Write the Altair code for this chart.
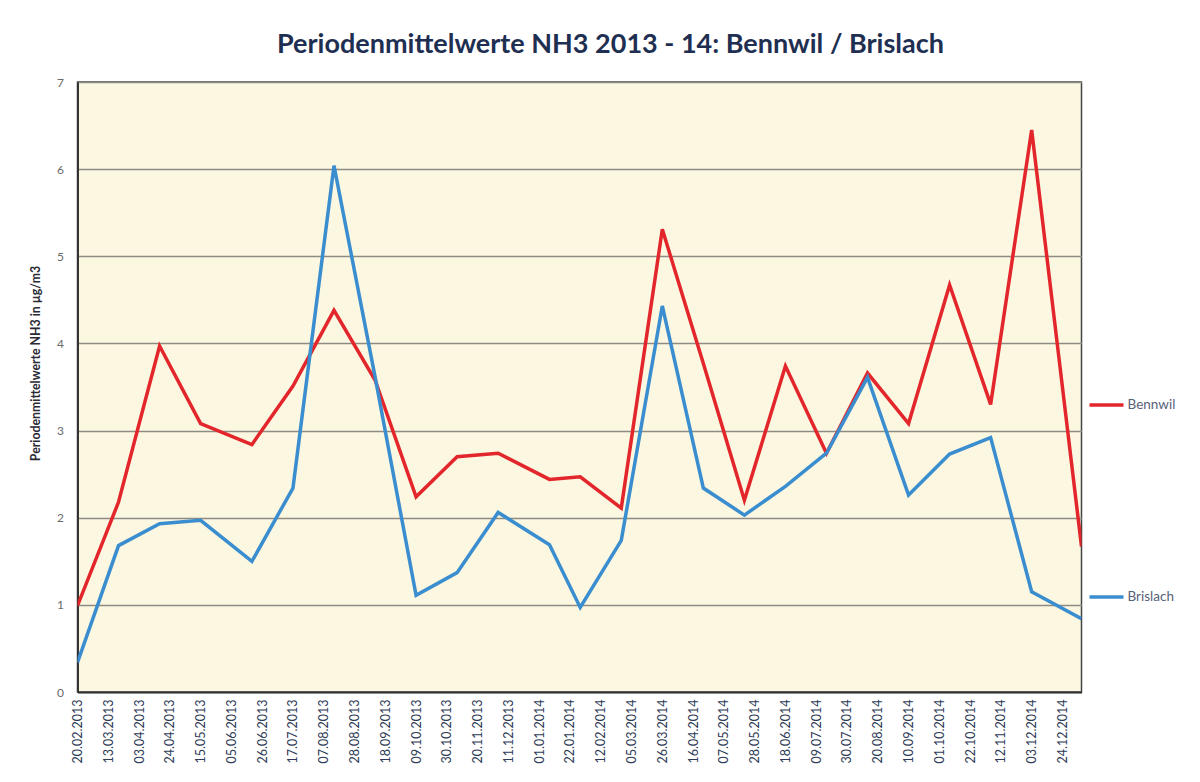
import altair as alt
import pandas as pd

# ---- data ----
dates = [
    "2013-02-20", "2013-03-20", "2013-04-17", "2013-05-15", "2013-06-19",
    "2013-07-17", "2013-08-14", "2013-09-11", "2013-10-09", "2013-11-06",
    "2013-12-04", "2014-01-08", "2014-01-29", "2014-02-26", "2014-03-26",
    "2014-04-23", "2014-05-21", "2014-06-18", "2014-07-16", "2014-08-13",
    "2014-09-10", "2014-10-08", "2014-11-05", "2014-12-03", "2015-01-06",
]
bennwil = [0.99, 2.18, 3.97, 3.08, 2.84, 3.51, 4.38, 3.58, 2.24, 2.70,
           2.74, 2.44, 2.47, 2.11, 5.31, 3.77, 2.20, 3.74, 2.74, 3.66,
           3.08, 4.67, 3.30, 6.45, 1.67]
brislach = [0.34, 1.68, 1.93, 1.97, 1.50, 2.34, 6.04, 3.62, 1.11, 1.37,
            2.06, 1.69, 0.97, 1.74, 4.43, 2.34, 2.03, 2.36, 2.74, 3.61,
            2.26, 2.73, 2.92, 1.15, 0.84]
series = ["Bennwil", "Brislach"]
colors = ["#E2262B", "#3A8DCF"]

# x-axis tick labels (every 3 weeks)
tick_dates = [
    (2013, 2, 20), (2013, 3, 13), (2013, 4, 3), (2013, 4, 24), (2013, 5, 15),
    (2013, 6, 5), (2013, 6, 26), (2013, 7, 17), (2013, 8, 7), (2013, 8, 28),
    (2013, 9, 18), (2013, 10, 9), (2013, 10, 30), (2013, 11, 20), (2013, 12, 11),
    (2014, 1, 1), (2014, 1, 22), (2014, 2, 12), (2014, 3, 5), (2014, 3, 26),
    (2014, 4, 16), (2014, 5, 7), (2014, 5, 28), (2014, 6, 18), (2014, 7, 9),
    (2014, 7, 30), (2014, 8, 20), (2014, 9, 10), (2014, 10, 1), (2014, 10, 22),
    (2014, 11, 12), (2014, 12, 3), (2014, 12, 24),
]
y_ticks = [0, 1, 2, 3, 4, 5, 6, 7]

rows = []
for name, vals in zip(series, [bennwil, brislach]):
    for d, v in zip(dates, vals):
        rows.append({"date": d, "value": v, "series": name})
df = pd.DataFrame(rows)

FONT = "Lato"

x_enc = alt.X(
    "date:T",
    scale=alt.Scale(
        type="utc",
        domain=[alt.DateTime(year=2013, month=2, date=20, utc=True),
                alt.DateTime(year=2015, month=1, date=6, utc=True)],
        nice=False,
    ),
    axis=alt.Axis(
        values=[alt.DateTime(year=y, month=m, date=d, utc=True) for y, m, d in tick_dates],
        labelExpr="utcFormat(datum.value, '%d.%m.%Y')",
        labelAngle=270,
        labelAlign="right",
        labelBaseline="middle",
        labelFontSize=12.5,
        labelColor="#2E3B57",
        labelPadding=7,
        labelOverlap=False,
        ticks=False,
        grid=False,
        domainColor="#333333",
        domainWidth=2,
        title=None,
    ),
)

y_enc = alt.Y(
    "value:Q",
    scale=alt.Scale(domain=[0, 7], nice=False),
    axis=alt.Axis(
        values=y_ticks,
        labelFontSize=12,
        labelColor="#6a6a6a",
        labelPadding=14,
        ticks=False,
        grid=True,
        gridColor="#8c8c84",
        gridWidth=1.3,
        domainColor="#333333",
        domainWidth=2,
        title="Periodenmittelwerte NH3 in µg/m3",
        titleFontSize=12.3,
        titleFontWeight="bold",
        titleColor="#2a2a35",
        titlePadding=14,
        titleY=281,
    ),
)

chart = (
    alt.Chart(df)
    .mark_line(strokeWidth=3.5, strokeJoin="miter", clip=True)
    .encode(
        x=x_enc,
        y=y_enc,
        color=alt.Color(
            "series:N",
            scale=alt.Scale(domain=series, range=colors),
            legend=alt.Legend(
                title=None,
                orient="none",
                legendX=1010,
                legendY=304,
                symbolType="stroke",
                symbolSize=1156,
                symbolStrokeWidth=3.5,
                rowPadding=166,
                labelFontSize=13.5,
                labelColor="#566179",
                labelOffset=2,
                padding=0,
            ),
        ),
        order="date:T",
    )
    .properties(
        width=1004,
        height=610,
        autosize=alt.AutoSizeParams(type="none"),
        padding={"left": 69.5, "top": 74, "right": 110, "bottom": 80},
        title=alt.TitleParams(
            "Periodenmittelwerte NH3 2013 - 14: Bennwil / Brislach",
            font=FONT,
            fontSize=27,
            fontWeight="bold",
            color="#1F2F52",
            anchor="middle",
            dx=31,
            offset=17,
        ),
    )
    .configure(font=FONT, background="white")
    .configure_view(fill="#FCF7E0", stroke="#444444", strokeWidth=1.5)
)

chart.save("out.html", embed_options={"renderer": "svg", "actions": False})
